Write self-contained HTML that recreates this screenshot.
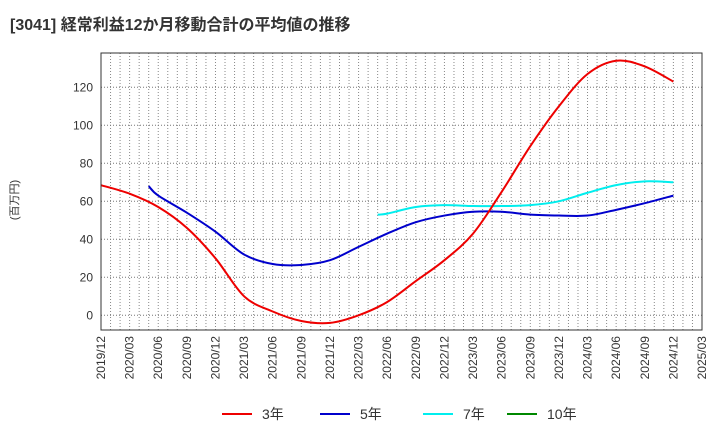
<!DOCTYPE html>
<html><head><meta charset="utf-8"><style>
body{margin:0;background:#fff;font-family:"Liberation Sans","Noto Sans CJK JP",sans-serif}
</style></head><body>
<svg id="c" width="720" height="440" xmlns="http://www.w3.org/2000/svg">
<text x="10" y="30" font-size="16" font-weight="bold" fill="#333">[3041]  経常利益12か月移動合計の平均値の推移</text>
<text transform="translate(18,200) rotate(-90)" text-anchor="middle" font-size="11" fill="#333">(百万円)</text>
<g id="grid"></g><g id="series"></g><g id="axes"></g>
<g font-size="14" fill="#333">
<line x1="222" y1="414" x2="252" y2="414" stroke="#e00" stroke-width="2"/><text x="262" y="419">3年</text>
<line x1="320" y1="414" x2="350" y2="414" stroke="#00c" stroke-width="2"/><text x="360" y="419">5年</text>
<line x1="423" y1="414" x2="453" y2="414" stroke="#0ee" stroke-width="2"/><text x="463" y="419">7年</text>
<line x1="507" y1="414" x2="537" y2="414" stroke="#080" stroke-width="2"/><text x="547" y="419">10年</text>
</g>
</svg>
<script>
const xLabels=["2019/12","2020/03","2020/06","2020/09","2020/12","2021/03","2021/06","2021/09","2021/12","2022/03","2022/06","2022/09","2022/12","2023/03","2023/06","2023/09","2023/12","2024/03","2024/06","2024/09","2024/12","2025/03"];
const yTicks=[0,20,40,60,80,100,120];
const months3=[0,3,6,9,12,15,18,21,24,27,30,33,36,39,42,45,48,51,54,57,60];
const vals3=[68.5,64,57,46,30,10,2,-3,-4,0,7,18,29,43,65,89,110,127,134,131,123];
const months5=[5,6,9,12,15,18,21,24,27,30,33,36,39,42,45,48,51,54,57,60];
const vals5=[68,63,54,44,32,27,26.5,29,36,43,49,52.5,54.5,54.5,53,52.5,52.5,55.5,59,63];
const months7=[29,30,33,36,39,42,45,48,51,54,57,60];
const vals7=[53,53.5,57,58,57.5,57.5,58,60,64.5,68.5,70.5,70];
const L=101,R=702,T=53,B=330;
const X=m=>L+m*(R-L)/63;
const Y=v=>315.3-v*1.9;
const NS="http://www.w3.org/2000/svg";
function mk(tag,attrs,parent){const e=document.createElementNS(NS,tag);for(const k in attrs)e.setAttribute(k,attrs[k]);parent.appendChild(e);return e;}
const grid=document.getElementById('grid'),axes=document.getElementById('axes'),ser=document.getElementById('series');
for(let m=1;m<63;m++){const g=mk('line',{x1:X(m),x2:X(m),y1:T,y2:B,stroke:'#888','stroke-dasharray':'1,2','stroke-width':1},grid);

}
yTicks.forEach(v=>{const g=mk('line',{x1:L,x2:R,y1:Y(v),y2:Y(v),stroke:'#777','stroke-dasharray':'1,2'},grid);


const t=mk('text',{x:L-8,y:Y(v)+4,'text-anchor':'end','font-size':12,fill:'#333'},axes);t.textContent=v;

});
const fr=mk('rect',{x:L,y:T,width:R-L,height:B-T,fill:'none',stroke:'#333','stroke-width':1},axes);


xLabels.forEach((s,i)=>{const x=X(i*3);const t=mk('text',{transform:`translate(${x+4},${B+6}) rotate(-90)`,'text-anchor':'end','font-size':12,fill:'#333'},axes);t.textContent=s;

});
function path(ms,vs){const p=ms.map((m,i)=>[X(m),Y(vs[i])]);let d=`M${p[0][0]},${p[0][1]}`;
for(let i=0;i<p.length-1;i++){const p0=p[i-1]||p[i],p1=p[i],p2=p[i+1],p3=p[i+2]||p2;
d+=` C${p1[0]+(p2[0]-p0[0])/6},${p1[1]+(p2[1]-p0[1])/6} ${p2[0]-(p3[0]-p1[0])/6},${p2[1]-(p3[1]-p1[1])/6} ${p2[0]},${p2[1]}`;}return d;}
[[months7,vals7,'#0ee','line-7yr'],[months5,vals5,'#00c','line-5yr'],[months3,vals3,'#e00','line-3yr']].forEach(([m,v,c,n])=>{
const e=mk('path',{d:path(m,v),fill:'none',stroke:c,'stroke-width':2},ser);

});
</script>
</body></html>
